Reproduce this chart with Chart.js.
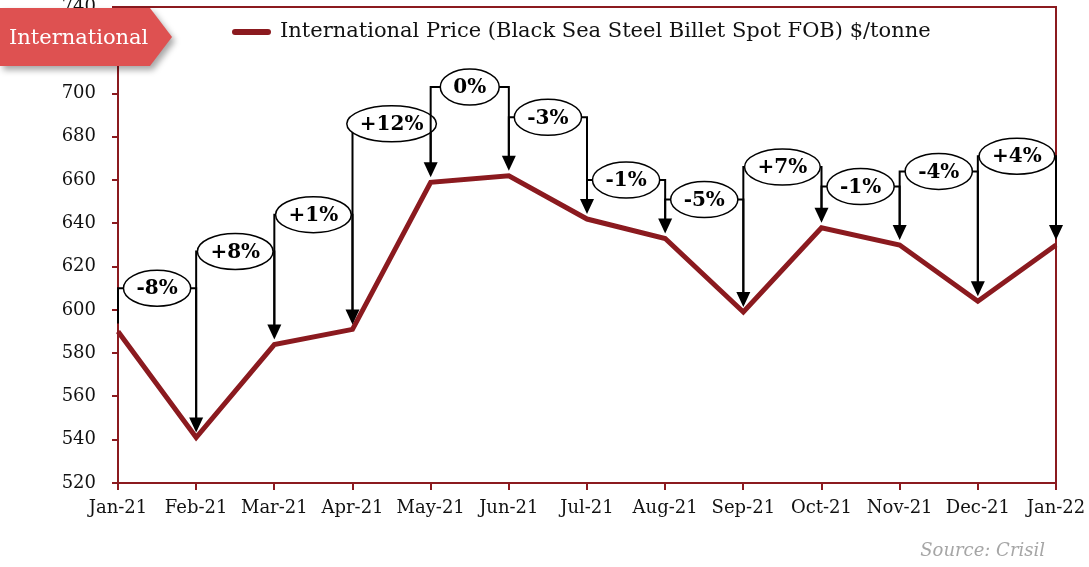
<!DOCTYPE html>
<html>
<head>
<meta charset="utf-8">
<script src="https://cdn.jsdelivr.net/npm/chart.js@4.4.1/dist/chart.umd.min.js"></script>
<style>
  body { margin: 0; background: #fff; }
  .wrap { position: relative; width: 1089px; height: 567px; }
  .tag-shadow { position: absolute; left: 0; top: 8px; filter: drop-shadow(3px 4px 3px rgba(0,0,0,0.35)); }
  .tag {
    width: 172px; height: 58px; background: #DE5151; color: #fff;
    clip-path: polygon(0 0, 150px 0, 172px 29px, 150px 58px, 0 58px);
    font: 21px "DejaVu Serif", serif; line-height: 58px; padding-left: 9px; box-sizing: border-box;
  }
  .source { position: absolute; right: 44px; top: 539px; font: italic 18px "DejaVu Serif", serif; color: #A6A6A6; }
</style>
</head>
<body>
<div class="wrap">
  <canvas id="chart" width="1089" height="567"></canvas>
  <div class="tag-shadow"><div class="tag">International</div></div>
  <div class="source">Source: Crisil</div>
</div>
<script>
// chart data
const months = ['Jan-21', 'Feb-21', 'Mar-21', 'Apr-21', 'May-21', 'Jun-21', 'Jul-21',
                'Aug-21', 'Sep-21', 'Oct-21', 'Nov-21', 'Dec-21', 'Jan-22'];
const prices = [590, 541, 584, 591, 659, 662, 642, 633, 599, 638, 630, 604, 630];
// month-on-month change labels and the level (in $/tonne) where each bracket sits
const changeLabels = ['-8%', '+8%', '+1%', '+12%', '0%', '-3%', '-1%', '-5%', '+7%', '-1%', '-4%', '+4%'];
const labelLevels = [610, 627, 644, 686, 703, 689, 660, 651, 666, 657, 664, 671];
const seriesName = 'International Price (Black Sea Steel Billet Spot FOB) $/tonne';

const RED = '#8B1A1F';
const SERIF = '"DejaVu Serif", serif';

const bracketPlugin = {
    id: 'brackets',
    afterDatasetsDraw(chart) {
        const { ctx, chartArea, scales: { x, y } } = chart;
        ctx.save();
        // frame top/right
        ctx.strokeStyle = RED;
        ctx.lineWidth = 2;
        ctx.strokeRect(chartArea.left, chartArea.top, chartArea.right - chartArea.left, chartArea.bottom - chartArea.top);

        ctx.strokeStyle = '#000';
        ctx.fillStyle = '#000';
        ctx.lineWidth = 2;
        ctx.font = 'bold 20px ' + SERIF;
        ctx.textAlign = 'center';
        ctx.textBaseline = 'middle';

        changeLabels.forEach((label, i) => {
            const x0 = x.getPixelForValue(i);
            const x1 = x.getPixelForValue(i + 1);
            const yl = y.getPixelForValue(labelLevels[i]);
            const ys = y.getPixelForValue(prices[i]) - 8;
            const ye = y.getPixelForValue(prices[i + 1]) - 5;

            ctx.beginPath();
            ctx.moveTo(x0, ys);
            ctx.lineTo(x0, yl);
            ctx.lineTo(x1, yl);
            ctx.lineTo(x1, ye - 14);
            ctx.stroke();

            // arrow head
            ctx.beginPath();
            ctx.moveTo(x1 - 7, ye - 15);
            ctx.lineTo(x1 + 7, ye - 15);
            ctx.lineTo(x1, ye);
            ctx.closePath();
            ctx.fill();

            // ellipse label
            const cx = (x0 + x1) / 2;
            const w = ctx.measureText(label).width;
            ctx.beginPath();
            ctx.ellipse(cx, yl, w / 2 + 13, 18, 0, 0, Math.PI * 2);
            ctx.fillStyle = '#fff';
            ctx.fill();
            ctx.lineWidth = 1.5;
            ctx.stroke();
            ctx.lineWidth = 2;
            ctx.fillStyle = '#000';
            ctx.fillText(label, cx, yl + 1);
        });

        // legend
        const lx = chartArea.left + 117;
        const ly = chartArea.top + 25;
        ctx.strokeStyle = RED;
        ctx.lineWidth = 6;
        ctx.lineCap = 'round';
        ctx.beginPath();
        ctx.moveTo(lx, ly);
        ctx.lineTo(lx + 33, ly);
        ctx.stroke();
        ctx.font = '21px ' + SERIF;
        ctx.textAlign = 'left';
        ctx.fillStyle = '#111';
        ctx.fillText(seriesName, lx + 45, ly);
        ctx.restore();
    }
};

new Chart(document.getElementById('chart'), {
    type: 'line',
    data: {
        labels: months,
        datasets: [{
            label: seriesName,
            data: prices,
            borderColor: RED,
            borderWidth: 5,
            borderJoinStyle: 'miter',
            pointRadius: 0,
            tension: 0,
            fill: false
        }]
    },
    options: {
        responsive: false,
        animation: false,
        layout: { padding: { left: 0, right: 33, top: 7, bottom: 0 } },
        plugins: { legend: { display: false }, tooltip: { enabled: false } },
        scales: {
            x: {
                offset: false,
                grid: { drawOnChartArea: false, color: RED, tickLength: 7, lineWidth: 2 },
                border: { color: RED, width: 2 },
                ticks: { color: '#111', font: { family: SERIF, size: 18 }, maxRotation: 0, autoSkip: false, padding: 8 },
                afterFit(scale) {
                    scale.height = 84;
                    scale.paddingLeft = 0;
                    scale.paddingRight = 0;
                }
            },
            y: {
                min: 520,
                max: 740,
                grid: { drawOnChartArea: false, color: RED, tickLength: 6, lineWidth: 2 },
                border: { color: RED, width: 2 },
                ticks: { stepSize: 20, color: '#111', font: { family: SERIF, size: 18 }, padding: 16 },
                afterFit(scale) {
                    scale.width = 118;
                    scale.paddingTop = 0;
                    scale.paddingBottom = 0;
                }
            }
        }
    },
    plugins: [bracketPlugin]
});
</script>
</body>
</html>
